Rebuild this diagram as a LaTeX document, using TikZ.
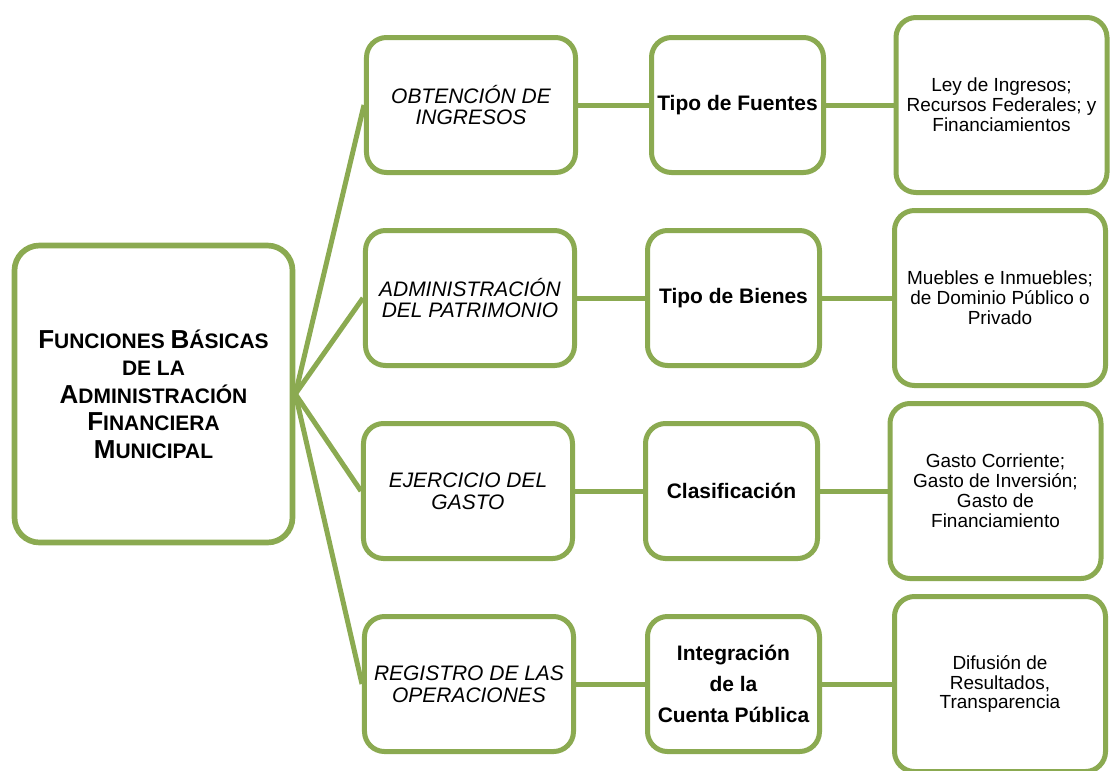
\documentclass[tikz,border=0pt]{standalone}
\usepackage{fontspec}
\setmainfont{Liberation Sans}
\definecolor{leaf}{RGB}{139,170,81}
\newcommand{\initcap}[1]{{\fontsize{22.2}{23.5}\selectfont #1}}

\begin{document}
\begin{tikzpicture}[x = 0.03cm, y = -0.03cm, line width = 0.15cm, leaf,
  box/.style = {draw, fill = white, rounded corners = 0.6cm, inner sep = 0pt, align = center, text = black},
  topic/.style = {box, minimum width = 6.27cm, minimum height = 4.05cm, font = \fontsize{17.9}{18.5}\selectfont\itshape},
  kind/.style = {box, minimum width = 5.16cm, minimum height = 4.05cm, font = \fontsize{17.9}{26.5}\selectfont\bfseries},
  detail/.style = {box, minimum width = 6.33cm, minimum height = 5.25cm, font = \fontsize{16.2}{17}\selectfont}]
\clip (0, 0) rectangle (1110, 770);
% Main box
\node[box, minimum width = 8.34cm, minimum height = 8.91cm, rounded corners = 0.75cm, line width = 0.17cm,
  font = \fontsize{17.9}{23.5}\selectfont\bfseries] (main) at (153.5, 394)
  {\initcap{F}UNCIONES \initcap{B}ÁSICAS\\DE LA\\\initcap{A}DMINISTRACIÓN\\\initcap{F}INANCIERA\\\initcap{M}UNICIPAL};
% Functions
\node[topic] (obt) at (471, 105) {OBTENCIÓN DE\\INGRESOS};
\node[topic] (adm) at (470, 298) {ADMINISTRACIÓN\\DEL PATRIMONIO};
\node[topic] (eje) at (468, 491) {EJERCICIO DEL\\GASTO};
\node[topic] (reg) at (469, 684) {REGISTRO DE LAS\\OPERACIONES};
% Kinds
\node[kind] (fue) at (737.5, 105) {Tipo de Fuentes};
\node[kind] (bie) at (733.5, 298) {Tipo de Bienes};
\node[kind] (cla) at (731.5, 491) {Clasificación};
\node[kind] (int) at (733.5, 684) {Integración\\de la\\Cuenta Pública};
% Details
\node[detail] (ley) at (1001.5, 105) {Ley de Ingresos;\\Recursos Federales; y\\Financiamientos};
\node[detail] (mue) at (1000, 298) {Muebles e Inmuebles;\\de Dominio Público o\\Privado};
\node[detail] (gas) at (995.5, 491) {Gasto Corriente;\\Gasto de Inversión;\\Gasto de\\Financiamiento};
\node[detail] (dif) at (1000, 684) {Difusión de\\Resultados,\\Transparencia};
% Lines
\draw (main.east) -- (obt.west);
\draw (main.east) -- (adm.west);
\draw (main.east) -- (eje.west);
\draw (main.east) -- (reg.west);
\draw (obt) -- (fue) -- (ley);
\draw (adm) -- (bie) -- (mue);
\draw (eje) -- (cla) -- (gas);
\draw (reg) -- (int) -- (dif);
\end{tikzpicture}
\end{document}
